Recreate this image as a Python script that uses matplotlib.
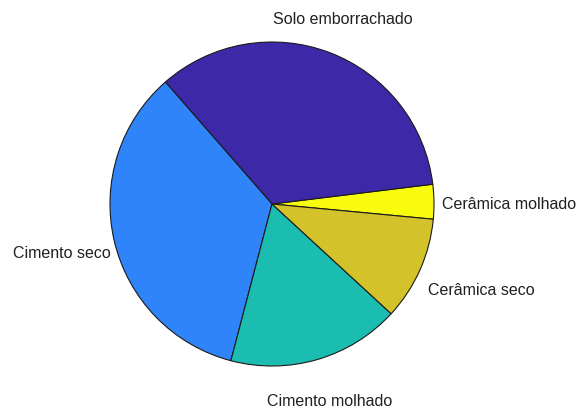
import matplotlib
matplotlib.use('Agg')
import matplotlib.pyplot as plt
import numpy as np

# counts per floor type
labels = ['Cerâmica molhado', 'Solo emborrachado', 'Cimento seco', 'Cimento molhado', 'Cerâmica seco']
counts = [1, 10, 10, 5, 3]
colors = ['#F9FB0F', '#3D28A8', '#2F84FA', '#1CBDB1', '#D4C22A']

# label centres (pie radius units), MATLAB-like placement
label_pos = [(1.466, 0.006), (0.438, 1.148), (-1.296, -0.302), (0.358, -1.216), (1.29, -0.525)]

plt.rcParams['font.family'] = ['Liberation Sans', 'DejaVu Sans']

fig = plt.figure(figsize=(5.79, 4.10), dpi=100)
ax = fig.add_axes([0, 0, 1, 1])

ax.pie(counts, colors=colors, startangle=-5.4, counterclock=True,
       wedgeprops=dict(edgecolor='#1a1a1a', linewidth=0.8), radius=1.0)

for lab, (x, y) in zip(labels, label_pos):
    ax.text(x, y, lab, ha='center', va='center', fontsize=11.5, color='#202020')

r = 162.0
ax.set_xlim(-272 / r, (579 - 272) / r)
ax.set_ylim((205 - 410) / r, 205 / r)
ax.set_aspect('auto')
ax.axis('off')

fig.savefig('out.png', dpi=100)
